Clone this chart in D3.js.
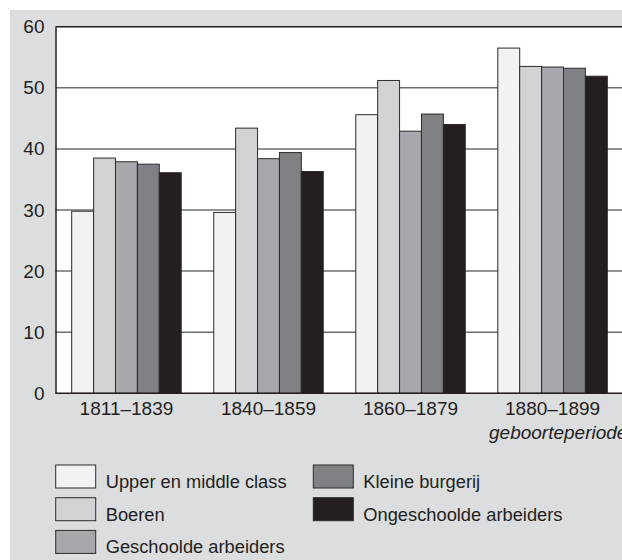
<!DOCTYPE html>
<html>
<head>
<meta charset="utf-8">
<script src="https://cdn.jsdelivr.net/npm/d3@7"></script>
<style>
  body { margin: 0; background: #fff; }
  text { font-family: "Liberation Sans", Arial, sans-serif; fill: #231f20; }
</style>
</head>
<body>
<svg id="svg" width="622" height="560"></svg>
<script>
// periods on the x axis
let periods = ["1811–1839", "1840–1859", "1860–1879", "1880–1899"];
// one array per class, one value per period
let classes = ["Upper en middle class", "Boeren", "Geschoolde arbeiders", "Kleine burgerij", "Ongeschoolde arbeiders"];
let upper = [29.8, 29.6, 45.6, 56.5];
let boeren = [38.5, 43.4, 51.2, 53.5];
let geschoold = [37.9, 38.4, 42.9, 53.4];
let kleine = [37.5, 39.4, 45.7, 53.2];
let ongeschoold = [36.1, 36.3, 44.0, 51.9];
let yTicks = [0, 10, 20, 30, 40, 50, 60];
let colors = ["#f1f2f4", "#d1d2d4", "#a7a8ab", "#808184", "#231f20"];

let series = [upper, boeren, geschoold, kleine, ongeschoold];

let svg = d3.select("svg");

// grey page background
svg.append("rect")
  .attr("x", 10).attr("y", 10)
  .attr("width", 612).attr("height", 550)
  .attr("fill", "#dcdddf");

let plot = {left: 55.5, top: 26.7, right: 623.5, bottom: 393.3};

let x = d3.scaleBand()
  .domain(periods)
  .range([plot.left, plot.right])
  .paddingInner(0.229)
  .paddingOuter(0.114);

let xInner = d3.scaleBand()
  .domain(d3.range(classes.length))
  .range([0, x.bandwidth()]);

let y = d3.scaleLinear()
  .domain([0, 60])
  .range([plot.bottom, plot.top]);

// white plot area
svg.append("rect")
  .attr("x", plot.left).attr("y", plot.top)
  .attr("width", 622 - plot.left).attr("height", plot.bottom - plot.top)
  .attr("fill", "#fff");

// grid lines
svg.append("g")
  .selectAll("line")
  .data(yTicks.filter(t => t > 0 && t < 60))
  .enter().append("line")
    .attr("x1", plot.left).attr("x2", 622)
    .attr("y1", d => y(d)).attr("y2", d => y(d))
    .attr("stroke", "#6d6e71")
    .attr("stroke-width", 1.5);

// top border
svg.append("line")
  .attr("x1", plot.left).attr("x2", 622)
  .attr("y1", y(60)).attr("y2", y(60))
  .attr("stroke", "#231f20").attr("stroke-width", 1.5);

// bars
let groups = svg.append("g")
  .selectAll("g")
  .data(periods)
  .enter().append("g")
    .attr("transform", d => "translate(" + x(d) + ",0)");

groups.selectAll("rect")
  .data((d, i) => series.map((s, k) => ({k, value: s[i]})))
  .enter().append("rect")
    .attr("x", d => xInner(d.k))
    .attr("y", d => y(d.value))
    .attr("width", xInner.bandwidth())
    .attr("height", d => y(0) - y(d.value))
    .attr("fill", d => colors[d.k])
    .attr("stroke", "#2b2b2b")
    .attr("stroke-width", 1);

// y axis
let yAxis = svg.append("g")
  .attr("transform", "translate(" + plot.left + ",0)")
  .call(d3.axisLeft(y).tickValues(yTicks).tickSize(0).tickPadding(11));
yAxis.select(".domain").attr("stroke", "#231f20").attr("stroke-width", 1.5);
yAxis.selectAll("text")
  .attr("font-size", 19)
  .attr("font-family", "Liberation Sans, Arial, sans-serif")
  .attr("fill", "#231f20");

// x axis
let xAxis = svg.append("g")
  .attr("transform", "translate(0," + plot.bottom + ")")
  .call(d3.axisBottom(x).tickSize(0).tickPadding(8));
xAxis.select(".domain").remove();
xAxis.append("line")
  .attr("x1", plot.left).attr("x2", 622)
  .attr("stroke", "#231f20").attr("stroke-width", 1.5);
xAxis.selectAll("text")
  .attr("font-size", 19)
  .attr("font-family", "Liberation Sans, Arial, sans-serif")
  .attr("fill", "#231f20");

svg.append("text")
  .attr("x", 489).attr("y", 439)
  .attr("font-size", 19)
  .attr("font-style", "italic")
  .text("geboorteperiode");

// legend, two columns
let legend = svg.append("g")
  .selectAll("g")
  .data(classes)
  .enter().append("g")
    .attr("transform", (d, i) => {
      let col = i < 3 ? 0 : 1;
      let row = i < 3 ? i : i - 3;
      return "translate(" + (55.7 + col * 257.6) + "," + (465 + row * 32.7) + ")";
    });

legend.append("rect")
  .attr("width", 40).attr("height", 23)
  .attr("fill", (d, i) => colors[i])
  .attr("stroke", "#2b2b2b")
  .attr("stroke-width", 1);

legend.append("text")
  .attr("x", 50).attr("y", 23)
  .attr("font-size", 18.3)
  .text(d => d);
</script>
</body>
</html>
